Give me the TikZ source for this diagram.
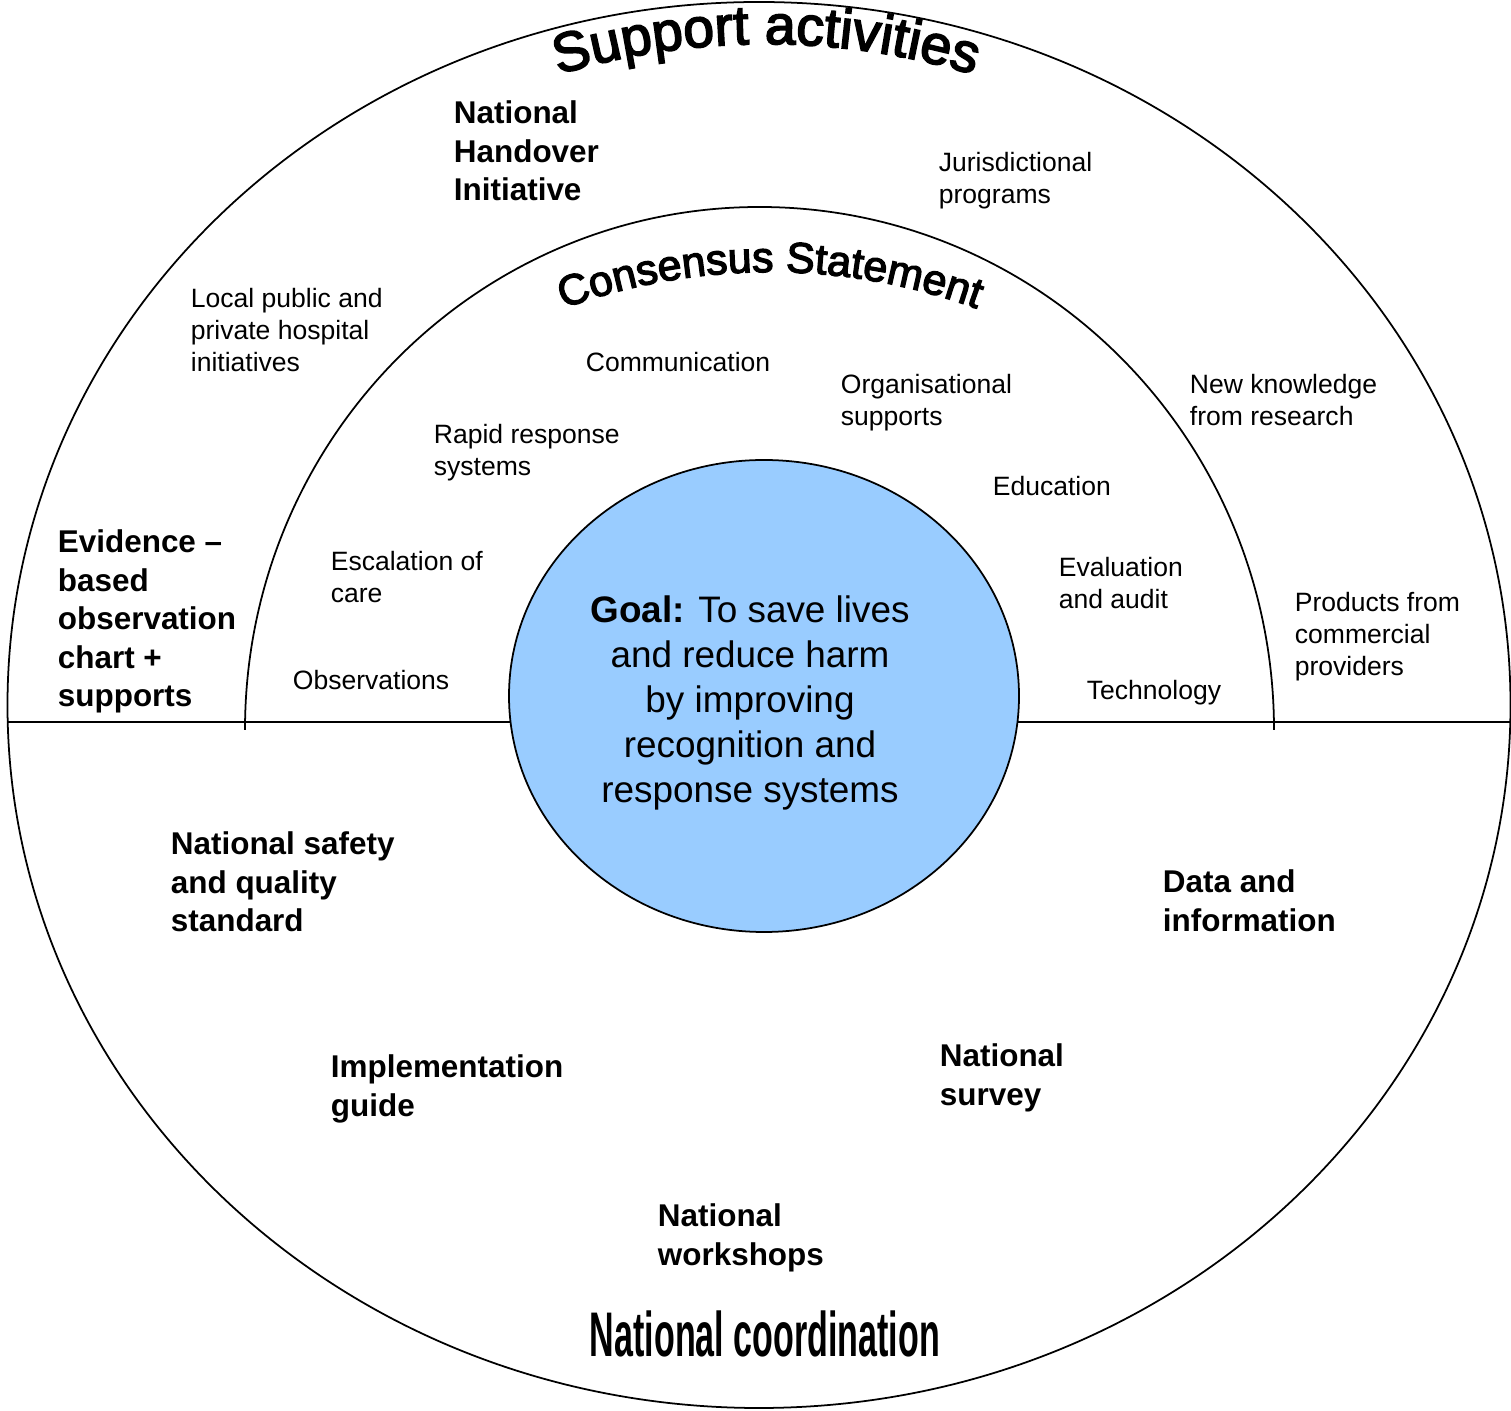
\documentclass[tikz,border=0pt]{standalone}
\usepackage{fontspec}
\setmainfont{Liberation Sans}
\newfontfamily\wordart{Liberation Sans}[FakeBold=3]
\usepackage{tikz}
\usetikzlibrary{decorations.text}

\definecolor{goalblue}{RGB}{153,204,255}
\tikzset{
    smalltxt/.style={anchor=north west, inner sep=0pt, align=left,
        font=\fontsize{15.1pt}{18.2pt}\selectfont},
    boldtxt/.style={anchor=north west, inner sep=0pt, align=left,
        font=\fontsize{17.9pt}{21.9pt}\selectfont\bfseries},
}

\begin{document}
\begin{tikzpicture}[x=0.02cm, y=0.02cm, line width=1pt]
        \useasboundingbox (0,0) rectangle (1511,1410);

        \draw (759,705) ellipse [x radius=751.5, y radius=703];
        \draw (8,688) -- (1510,688);
        \draw (245,680) arc [start angle=180, end angle=0, x radius=514.5, y radius=523];
        \filldraw[fill=goalblue, draw=black] (764,714) ellipse [x radius=255, y radius=236];

        \path[decorate, decoration={text along path, text align=center,
            text={|\wordart\fontsize{31.5pt}{36pt}\selectfont|Support activities}}]
            (766,646) ++(125:720) arc [start angle=125, end angle=55, radius=720];
        \path[decorate, decoration={text along path, text align=center,
            text={|\wordart\fontsize{24.4pt}{29pt}\selectfont|Consensus Statement}}]
            (770,538) ++(130:600) arc [start angle=130, end angle=50, radius=600];

        \node[boldtxt] (handover) at (453,1310) {National\\Handover\\Initiative};
        \node[smalltxt] (jurisdiction) at (938,1259) {Jurisdictional\\programs};
        \node[smalltxt] (localinit) at (190,1123) {Local public and\\private hospital\\initiatives};
        \node[smalltxt] (communication) at (585,1059) {Communication};
        \node[smalltxt] (orgsupports) at (840,1037) {Organisational\\supports};
        \node[smalltxt] (newknowledge) at (1189,1037) {New knowledge\\from research};
        \node[smalltxt] (rapidresp) at (433,987) {Rapid response\\systems};
        \node[smalltxt] (education) at (992,935) {Education};
        \node[smalltxt] (escalation) at (330,860) {Escalation of\\care};
        \node[smalltxt] (evaluation) at (1058,854) {Evaluation\\and audit};
        \node[smalltxt] (products) at (1294,819) {Products from\\commercial\\providers};
        \node[smalltxt] (observations) at (292,741) {Observations};
        \node[smalltxt] (technology) at (1086,731) {Technology};
        \node[boldtxt] (evidence) at (57,881) {Evidence –\\based\\observation\\chart +\\supports};

        \node[align=center, inner sep=0pt, font=\fontsize{21pt}{25.6pt}\selectfont] (goal) at (750,707)
            {\textbf{Goal:} To save lives\\and reduce harm\\by improving\\recognition and\\response systems};

        \node[boldtxt] (safety) at (170,579) {National safety\\and quality\\standard};
        \node[boldtxt] (datainfo) at (1162,541) {Data and\\information};
        \node[boldtxt] (implguide) at (330,356) {Implementation\\guide};
        \node[boldtxt] (survey) at (939,367) {National\\survey};
        \node[boldtxt] (workshops) at (657,207) {National\\workshops};

        \node[anchor=base, inner sep=0pt, font=\fontsize{35.9pt}{40pt}\selectfont\bfseries] (natcoord) at (765,54)
            {\scalebox{0.54}[1]{National coordination}};
\end{tikzpicture}
\end{document}
